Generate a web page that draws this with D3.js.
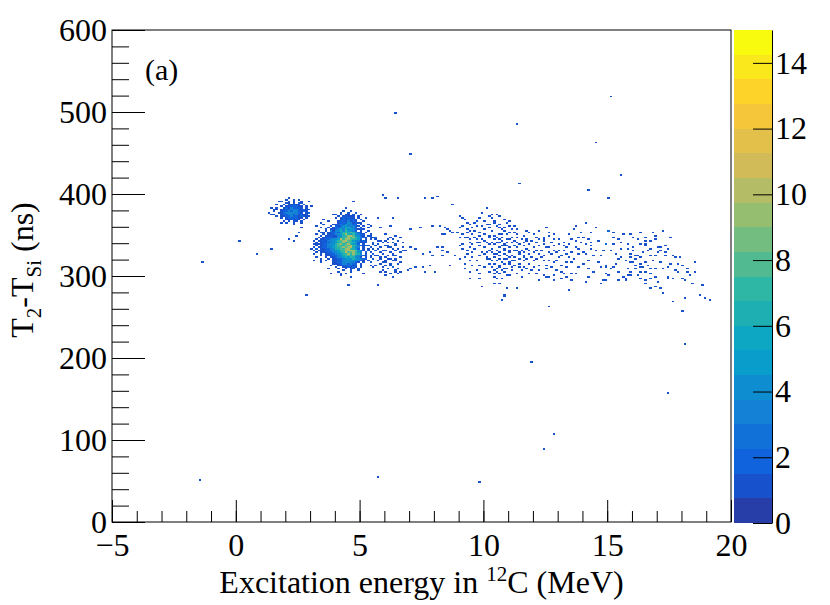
<!DOCTYPE html>
<html lang="en">
<head>
<meta charset="UTF-8">
<title>T2-TSi vs excitation energy</title>
<script src="https://d3js.org/d3.v7.min.js"></script>
<style>
  body { margin: 0; background: #fff; }
  text { font-family: "Liberation Serif", "Times New Roman", serif; fill: #000; }
</style>
</head>
<body>
<svg id="chart" width="830" height="605"></svg>
<script>
// axis ranges and ticks
const xDomain = [-5, 20];
const yDomain = [0, 600];
const xTicks = [-5, 0, 5, 10, 15, 20];
const yTicks = [0, 100, 200, 300, 400, 500, 600];
const zTicks = [0, 2, 4, 6, 8, 10, 12, 14];
const zMax = 15;
const zLevels = 20;
const binE = 0.1;   // MeV
const binT = 2;     // ns

// ROOT kBird palette
const birdStops = [0, 0.125, 0.25, 0.375, 0.5, 0.625, 0.75, 0.875, 1];
const birdR = [0.2082, 0.0592, 0.0780, 0.0232, 0.1802, 0.5301, 0.8186, 0.9956, 0.9764];
const birdG = [0.1664, 0.3599, 0.5041, 0.6419, 0.7178, 0.7492, 0.7328, 0.7862, 0.9832];
const birdB = [0.5293, 0.8684, 0.8385, 0.7914, 0.6425, 0.4662, 0.3499, 0.1968, 0.0539];

// main peak (E ~4.4 MeV), bins of 0.1 MeV x 2 ns, first column E=2.9, first row T=378
const peakLeft = 2.9, peakTop = 378;
const peakRows = [
  "..............1..1..........",
  ".............1..1..1........",
  "..........1..1.11.1..1......",
  "............1.12111.1.......",
  "...........1.121211.1..1....",
  ".............1221221.1......",
  "........1...12213121..1.....",
  "............1222431211......",
  "......1...1123243322.1..1...",
  ".........1.2124533321.1.....",
  ".....1..1.1223456432.1..1...",
  ".......1.11235364542121.....",
  "....1..1.21346475432.1..1...",
  "......1.11232567686421.1....",
  "...1..1.112345796574321..1..",
  ".....1.1121134679a85421.1...",
  "....1.1122124578a7975321.1.1",
  "...1.11123445a79987652.1...1",
  "..1.11213345789a87543121....",
  "...1.1122345679687652111..1.",
  "..1.112234468978a6542.1.....",
  "...1.112345687698a7632121..1",
  "..1.1122345678989a643.1.....",
  ".1.1.11223466879a7652.1.1...",
  "..1..112233457899a98541.1..1",
  "...1.1112234567a889753.2....",
  "..1..1.112234567979763.1..1.",
  ".....1.11122346786854321.1..",
  "...1...1.1123456576431.1....",
  ".....1..1.11223454654322..1.",
  ".......1..1112344543321.1...",
  ".....1....11223443321.1..1..",
  "..........1112332322.1......",
  ".........1..11222211.1...1..",
  "...........1..112121.1......",
  "............1..1.11.1.......",
  "..............1..1..1.......",
  "............1....1..........",
  "...............1......1....."
];

// second peak (E ~2.3 MeV), first column E=1.4, first row T=392
const hoyleLeft = 1.4, hoyleTop = 392;
const hoyleRows = [
  "......1..1.1.....",
  "....1..1.1..1..1.",
  "......11.1.11....",
  "..1..1.11211.1...",
  "....1.1122211.1.1",
  "1.1..12132221.1..",
  "..1.112233321211.",
  ".1..12232432121..",
  "...1123343321.11.",
  ".1..12233231211..",
  "..1.1122322121.1.",
  "....1.1222211.1..",
  "......112121.1...",
  ".....1.1.11.1....",
  "......1..1..1....",
  ".........1......."
];

// single events [E (MeV), T (ns)]
const events = [
  // isolated
  [15.15,518],[11.32,485],[6.47,498],[7.0,448],[14.59,462],[15.56,423],[11.4,413],[14.27,404],
  [-1.45,51],[5.7,55],[9.82,49],[12.8,106],[12.4,88],[11.96,194],[17.45,157],[18.1,217],
  [-1.4,316],[0.17,343],[2.84,276],[5.95,399],[7.92,395],[12.6,263],[18.9,273],
  // around the peaks
  [0.84,326],[1.41,333],[1.72,390],[1.58,381],[1.45,374],[1.38,377],[2.12,394],[2.59,389],
  [2.73,387],[2.93,376],[2.86,373],[2.66,359],[2.59,353],[2.46,348],[2.16,344],[2.3,343],
  [1.85,364],[3.2,360],[3.4,352],[3.47,364],[3.53,369],[4.41,383],[4.58,369],[4.72,390],
  [4.07,374],[3.8,354],[3.6,344],[3.27,338],[3.2,332],[3.33,330],[3.13,318],[3.4,318],
  [3.74,309],[3.8,303],[4.21,303],[4.28,300],[4.61,298],[4.54,289],
  // 5.4 - 7 MeV group
  [5.47,349],[5.66,347],[6.01,350],[6.27,346],[6.41,348],
  [5.43,344],[5.58,346],[5.86,343],[6.14,345],[6.33,344],[6.62,346],
  [5.51,341],[5.71,343],[5.92,340],[6.05,342],[6.31,340],[6.53,343],[6.74,341],
  [5.55,338],[5.79,339],[6.02,337],[6.18,340],[6.42,338],
  [5.44,335],[5.63,336],[5.87,334],[6.11,337],[6.22,335],[6.49,336],[6.71,334],
  [5.52,332],[5.73,333],[5.95,331],[6.19,334],[6.37,332],[6.58,333],
  [5.41,329],[5.64,330],[5.84,328],[6.06,331],[6.26,329],[6.44,330],[6.61,328],[6.86,331],
  [5.57,327],[5.78,325],[5.97,326],[6.13,324],[6.32,327],[6.48,325],
  [5.46,323],[5.68,324],[5.88,322],[6.04,323],[6.24,321],[6.38,324],[6.64,322],
  [5.54,320],[5.83,321],[6.0,319],[6.17,320],[6.35,318],[6.46,321],
  [5.48,317],[5.74,318],[5.91,316],[6.08,317],[6.28,315],[6.45,318],[6.68,316],
  [5.61,313],[5.81,314],[6.02,312],[6.21,313],[6.39,311],[6.57,314],
  [5.5,310],[5.9,311],[6.1,309],[6.3,310],[6.52,308],
  [5.98,307],[6.15,308],[6.4,306],[5.85,304],[6.09,305],[6.23,303],[6.44,305],[6.0,301],[6.36,299],
  // 6 - 10.3 MeV
  [6.05,394],[6.50,395],[7.67,395],[8.11,396],[8.76,386],[10.13,383],[5.76,370],[6.36,371],
  [5.80,359],[6.25,360],[5.49,360],[7.0,357],[7.4,359],[7.98,361],[8.25,360],[8.49,359],
  [8.54,356],[8.69,355],[8.31,351],[8.45,351],[8.78,352],[8.95,352],[9.12,371],[9.32,365],
  [9.16,360],[9.53,358],[9.70,367],[9.86,370],[10.0,366],[9.94,361],[9.75,360],[9.46,354],
  [9.32,352],[9.05,347],[9.39,347],[9.59,350],[9.86,353],[10.06,350],[10.2,358],[10.13,363],
  [9.12,339],[9.26,346],[9.46,344],[9.59,338],[9.79,344],[9.86,336],[10.0,334],[9.46,334],
  [9.59,328],[9.39,326],[9.12,332],[8.89,325],[9.05,320],[9.86,324],[10.06,326],[10.2,331],
  [9.86,313],[10.06,311],[10.2,315],[9.46,305],[9.86,303],[8.69,312],
  [7.24,332],[7.04,334],[6.77,330],[7.51,326],[7.87,329],[7.98,324],[8.18,335],[8.31,334],
  [8.35,330],[8.52,328],[8.31,325],[7.82,313],[8.04,304],[7.64,304],[7.51,310],[7.24,311],
  [7.04,309],[6.9,306],[6.63,304],[6.5,303],[5.72,288],[9.9,287],
  [9.7,341],[9.55,322],[9.95,345],[10.15,340],[9.3,356],[9.65,332],[10.1,320],[9.2,315],
  [9.75,318],[10.2,305],[9.4,340],[9.0,358],
  [9.05,372],[9.25,368],[9.45,362],[9.65,355],[9.85,349],[10.05,343],[9.15,350],[9.35,330],
  [9.55,312],[9.75,307],[9.95,329],[10.15,322],[9.08,336],[9.28,322],[9.48,318],[9.68,346],
  [9.88,340],[10.08,356],[10.24,349],[9.22,309],[9.62,364],[9.92,376],[10.22,372],[9.42,296],
  [9.82,296],
  // 10.3 - 11.8 MeV
  [10.57,375],[10.34,370],[10.40,366],[10.27,363],[10.51,360],[10.67,358],[10.88,359],[11.08,360],
  [11.28,361],[11.32,357],[10.81,354],[11.01,352],[10.61,351],[10.40,349],[10.27,346],[10.74,347],
  [10.94,345],[11.14,347],[11.32,346],[11.21,342],[11.10,340],[10.88,339],[10.67,341],[10.47,338],
  [10.34,340],[10.61,334],[10.81,333],[11.01,335],[11.28,336],[11.48,338],[11.62,336],[11.75,333],
  [11.86,330],[11.68,328],[11.48,329],[11.32,330],[11.08,328],[10.88,326],[10.67,329],[10.51,326],
  [10.34,328],[10.40,322],[10.61,320],[10.81,321],[11.01,322],[11.21,322],[11.41,320],[11.62,322],
  [10.47,315],[10.67,313],[10.88,314],[11.08,315],[11.28,313],[11.48,314],[10.34,311],[10.54,309],
  [10.74,307],[10.94,309],[11.14,306],[10.40,303],[10.65,302],[10.84,304],[11.05,301],[10.54,297],
  [10.67,290],[10.47,291],[10.94,284],[10.81,277],[10.71,271],[10.88,275],
  [10.45,344],[10.55,347],[10.7,336],[10.85,330],[10.95,340],[11.05,344],[11.15,325],[11.25,318],
  [10.3,333],[10.5,318],[10.6,325],[10.75,316],[10.9,320],[11.0,331],[11.2,336],[10.35,355],
  [10.65,362],[10.8,368],[11.1,356],[10.45,306],[10.6,311],[10.95,300],[10.2,338],[10.1,328],
  [10.75,342],[11.35,340],[11.45,326],[11.55,330],[10.55,340],[10.9,351],
  [10.32,375],[10.48,364],[10.62,372],[10.78,357],[10.92,364],[11.06,367],[11.22,352],[11.38,350],
  [11.52,345],[11.66,341],[10.36,318],[10.52,331],[10.66,345],[10.82,337],[10.98,325],[11.12,318],
  [11.26,331],[11.42,310],[11.58,306],[11.72,320],[10.42,299],[10.58,305],[10.72,296],[10.86,309],
  [11.02,316],[11.18,311],[11.34,303],[11.5,299],[11.64,325],[11.78,309],[10.28,321],[10.44,327],
  [11.36,335],[10.98,336],[10.76,350],
  // 11.7 - 15 MeV
  [11.72,355],[11.88,352],[11.62,348],[12.15,347],[12.29,344],[11.95,342],[12.49,347],[12.63,348],
  [12.89,350],[12.56,359],[11.75,342],[12.42,338],[12.22,336],[12.02,334],[12.67,335],[12.83,337],
  [13.03,339],[13.2,336],[12.02,328],[12.29,326],[12.49,324],[12.76,326],[12.96,328],[13.12,324],
  [13.37,326],[13.57,329],[12.15,320],[12.42,318],[11.88,315],[11.68,311],[12.09,310],[12.29,307],
  [12.56,309],[12.76,310],[12.96,307],[13.16,305],[13.34,310],[13.5,303],[11.88,303],[12.49,301],
  [12.69,299],[12.89,301],[13.1,297],[13.37,298],[12.29,294],[12.83,294],[13.57,295],[11.32,285],
  [13.41,283],
  [13.74,361],[13.88,346],[14.04,347],[14.17,365],[14.55,359],[14.39,353],[14.31,341],[14.11,338],
  [13.93,340],[13.74,342],[13.5,344],[13.43,338],[13.7,334],[13.84,326],[14.17,326],[14.31,332],
  [14.44,324],[14.71,324],[14.91,339],[15.05,355],[15.01,394],[14.04,315],[13.8,311],[14.28,309],
  [14.78,310],[14.91,313],[14.44,304],[14.24,299],[14.15,293],[14.85,295],[14.98,302],[14.78,290],
  [11.9,322],[12.1,340],[12.35,330],[12.6,318],[12.75,340],[12.95,318],[13.25,330],[13.0,345],
  [11.8,338],[12.2,312],[12.5,335],[13.3,316],[12.85,330],[11.6,318],[11.95,307],[13.45,322],
  [12.4,345],[11.7,345],
  [11.84,326],[12.0,318],[12.18,331],[12.34,322],[12.52,313],[12.68,328],[12.84,316],[13.02,323],
  [13.18,312],[13.36,334],[13.52,316],[13.68,320],[13.86,333],[14.02,329],[14.2,318],[14.36,336],
  [14.52,331],[14.68,317],[14.84,330],[12.06,350],[12.26,355],[12.46,342],[12.66,352],[12.86,344],
  [13.06,331],[13.26,340],[13.46,350],[13.66,356],[13.96,352],[14.26,345],[14.62,342],[12.12,302],
  [12.58,298],[13.22,302],[13.76,302],
  // 15 - 19.3 MeV
  [15.04,355],[15.21,352],[15.21,347],[15.42,345],[15.69,351],[15.92,351],[16.31,353],[16.93,348],
  [17.2,354],[17.53,347],[14.91,339],[15.58,340],[15.88,338],[16.32,339],[16.53,346],[16.59,343],
  [16.79,342],[16.96,344],[16.23,344],[16.53,338],[16.59,336],[15.88,333],[16.09,334],[16.09,330],
  [16.79,333],[17.06,334],[17.17,335],[17.36,336],[17.47,332],[17.13,330],[17.04,328],[16.9,325],
  [16.79,324],[17.33,328],[17.31,324],[17.6,325],[17.76,322],[17.98,322],[15.45,320],[15.56,323],
  [15.92,322],[16.12,324],[16.26,325],[16.39,322],[15.92,316],[16.05,317],[16.19,313],[16.39,315],
  [16.59,317],[16.69,313],[16.46,311],[16.32,311],[17.4,311],[16.79,309],[16.93,309],[14.91,313],
  [15.25,311],[15.38,314],[14.98,310],[15.18,308],[15.85,309],[16.12,309],[16.36,305],[16.59,304],
  [16.93,299],[17.4,299],[17.49,297],[17.74,307],[17.87,304],[18.21,309],[18.25,304],[18.54,304],
  [18.57,317],[18.05,296],[18.11,295],[15.02,301],[15.65,299],[15.74,296],[15.85,300],[15.99,301],
  [15.45,294],[15.78,295],[16.32,297],[16.5,294],[16.55,290],[16.79,296],[16.73,285],[16.96,286],
  [17.13,284],[17.22,279],[18.85,288],[18.79,276],[18.18,272],[19.19,271],[17.67,268],[18.03,256],
  [14.91,295],
  [15.12,330],[15.32,326],[15.52,333],[15.72,318],[15.96,327],[16.16,320],[16.42,328],[16.66,330],
  [16.86,318],[17.1,317],[17.28,308],[17.56,315],[17.82,314],[18.0,312],[18.35,300],[15.28,339],
  [15.48,305],[15.9,305],[16.28,300],[16.72,302],[17.0,292],[17.6,296],[18.4,290],[16.0,346],
  [16.82,352]
];

const svg = d3.select("#chart");
const frame = {left: 112, right: 731, top: 30, bottom: 522};
const bar = {left: 734, right: 772, top: 30, bottom: 523};

const x = d3.scaleLinear().domain(xDomain).range([frame.left, frame.right]);
const y = d3.scaleLinear().domain(yDomain).range([frame.bottom, frame.top]);
const z = d3.scaleLinear().domain([0, zMax]).range([bar.bottom, bar.top]);

const bird = d3.scaleLinear()
  .domain(birdStops)
  .range(birdStops.map((s, i) => d3.rgb(birdR[i] * 255, birdG[i] * 255, birdB[i] * 255)))
  .interpolate(d3.interpolateRgb);

const levelStep = zMax / zLevels;
const levelColor = i => bird(Math.floor((i + 0.99) * 255 / zLevels) / 254);
const valueColor = v => levelColor(Math.min(zLevels - 1, Math.floor(v / levelStep + 1e-9)));

// fill histogram
const bins = new Map();
function addBin(ix, iy, n) {
  const key = ix + "," + iy;
  bins.set(key, (bins.get(key) || 0) + n);
}
function addGrid(rows, left, top) {
  rows.forEach((row, r) => {
    const iy = Math.round((top - r * binT) / binT);
    [...row].forEach((ch, c) => {
      if (ch === ".") return;
      const ix = Math.round((left + c * binE - xDomain[0]) / binE);
      addBin(ix, iy, parseInt(ch, 36));
    });
  });
}
addGrid(peakRows, peakLeft, peakTop);
addGrid(hoyleRows, hoyleLeft, hoyleTop);
events.forEach(([e, t]) => {
  addBin(Math.floor((e - xDomain[0]) / binE + 1e-9), Math.floor(t / binT + 1e-9), 1);
});

const cells = Array.from(bins, ([key, n]) => {
  const [ix, iy] = key.split(",").map(Number);
  return {e0: xDomain[0] + ix * binE, t0: iy * binT, n};
});

svg.append("g")
  .selectAll("rect")
  .data(cells)
  .join("rect")
  .attr("x", d => x(d.e0))
  .attr("y", d => y(d.t0 + binT))
  .attr("width", d => x(d.e0 + binE) - x(d.e0))
  .attr("height", d => y(d.t0) - y(d.t0 + binT))
  .attr("fill", d => valueColor(d.n))
  .attr("shape-rendering", "crispEdges");

// frame
svg.append("rect")
  .attr("x", frame.left).attr("y", frame.top)
  .attr("width", frame.right - frame.left).attr("height", frame.bottom - frame.top)
  .attr("fill", "none").attr("stroke", "#000").attr("stroke-width", 1);

// x axis
svg.append("g")
  .attr("transform", `translate(0,${frame.bottom})`)
  .call(d3.axisBottom(x).tickValues(xTicks).tickSizeInner(-22).tickSizeOuter(0).tickPadding(11));
svg.append("g")
  .attr("transform", `translate(0,${frame.bottom})`)
  .call(d3.axisBottom(x).tickValues(x.ticks(25)).tickSizeInner(-11).tickSizeOuter(0).tickFormat(""));

// y axis
svg.append("g")
  .attr("transform", `translate(${frame.left},0)`)
  .call(d3.axisLeft(y).tickValues(yTicks).tickSizeInner(-33).tickSizeOuter(0).tickPadding(5));
svg.append("g")
  .attr("transform", `translate(${frame.left},0)`)
  .call(d3.axisLeft(y).tickValues(y.ticks(30)).tickSizeInner(-17).tickSizeOuter(0).tickFormat(""));

svg.selectAll(".domain").remove();
svg.selectAll(".tick line").attr("stroke", "#000");
svg.selectAll(".tick text")
  .attr("font-family", "Liberation Serif, Times New Roman, serif")
  .attr("font-size", 32)
  .attr("fill", "#000");

// colour bar
svg.append("g")
  .selectAll("rect")
  .data(d3.range(zLevels))
  .join("rect")
  .attr("x", bar.left)
  .attr("y", i => z((i + 1) * levelStep))
  .attr("width", bar.right - bar.left)
  .attr("height", i => z(i * levelStep) - z((i + 1) * levelStep))
  .attr("fill", i => levelColor(i))
  .attr("shape-rendering", "crispEdges");

const zAxis = svg.append("g")
  .attr("transform", `translate(${bar.right},0)`)
  .call(d3.axisRight(z).tickValues(zTicks).tickSizeInner(-19).tickSizeOuter(0).tickPadding(3));
zAxis.select(".domain").attr("stroke", "#000");
zAxis.selectAll(".tick line").attr("stroke", "#000");
zAxis.selectAll(".tick text")
  .attr("font-family", "Liberation Serif, Times New Roman, serif")
  .attr("font-size", 32)
  .attr("fill", "#000");

// titles
const xTitle = svg.append("text")
  .attr("x", (frame.left + frame.right) / 2)
  .attr("y", 593)
  .attr("text-anchor", "middle")
  .attr("font-size", 32);
xTitle.append("tspan").text("Excitation energy in ");
xTitle.append("tspan").attr("font-size", 21).attr("dy", -12).text("12");
xTitle.append("tspan").attr("dy", 12).text("C (MeV)");

const yTitle = svg.append("text")
  .attr("transform", `translate(33,${(frame.top + frame.bottom) / 2 - 6}) rotate(-90)`)
  .attr("text-anchor", "middle")
  .attr("font-size", 32);
yTitle.append("tspan").text("T");
yTitle.append("tspan").attr("font-size", 21).attr("dy", 8).text("2");
yTitle.append("tspan").attr("dy", -8).text("-T");
yTitle.append("tspan").attr("font-size", 21).attr("dy", 8).text("Si");
yTitle.append("tspan").attr("dy", -8).text(" (ns)");

svg.append("text")
  .attr("x", 145)
  .attr("y", 80)
  .attr("font-size", 30)
  .text("(a)");
</script>
</body>
</html>
